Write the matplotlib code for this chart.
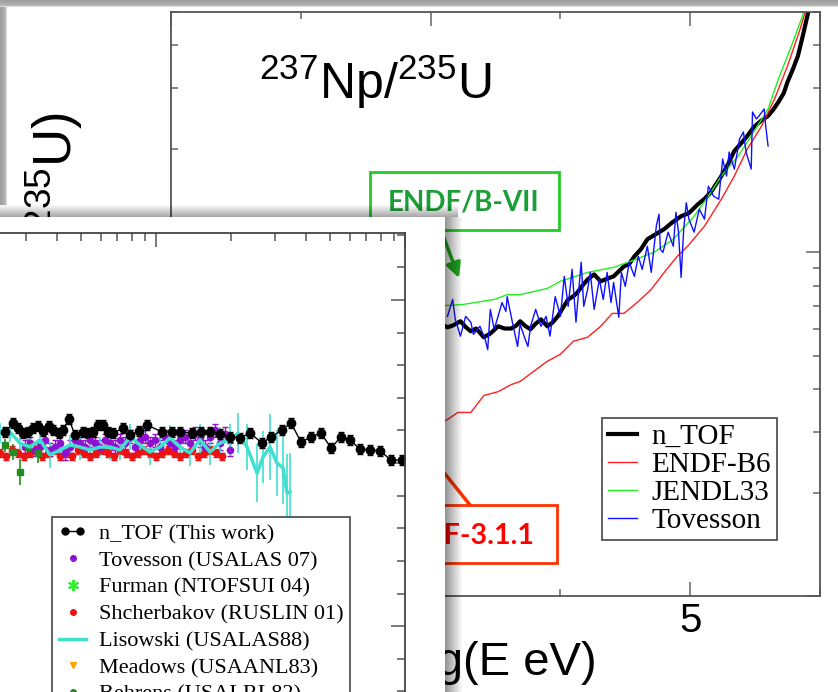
import matplotlib.pyplot as plt
from matplotlib.patches import Rectangle, FancyArrowPatch
from matplotlib.lines import Line2D
from matplotlib.legend_handler import HandlerLine2D
from matplotlib.ticker import NullFormatter, LogLocator, FixedLocator, MultipleLocator

plt.rcParams['font.family'] = ['Liberation Sans', 'DejaVu Sans']
plt.rcParams['mathtext.default'] = 'regular'

W, H = 838, 692

# ---- back slide: 237Np/235U ratio vs log(E eV) ----
ntof_logE = [3.08, 3.13, 3.17, 3.23, 3.27, 3.31, 3.35, 3.41, 3.46, 3.52, 3.57, 3.62, 3.66, 3.69, 3.73,
             3.77, 3.81, 3.85, 3.90, 3.94, 3.98, 4.02, 4.06, 4.10, 4.13, 4.17, 4.21, 4.26, 4.31, 4.36,
             4.41, 4.45, 4.49, 4.53, 4.57, 4.62, 4.67, 4.72, 4.80, 4.86, 4.93, 4.99, 5.06, 5.11, 5.16,
             5.24, 5.29, 5.34, 5.39, 5.44, 5.49, 5.55, 5.60, 5.64, 5.68, 5.72, 5.75, 5.79, 5.83, 5.87,
             5.91, 5.93]
ntof_ratio = [0.618, 0.605, 0.612, 0.630, 0.606, 0.589, 0.600, 0.566, 0.580, 0.609, 0.600, 0.600, 0.612,
              0.630, 0.610, 0.597, 0.620, 0.638, 0.609, 0.625, 0.651, 0.690, 0.729, 0.745, 0.763, 0.800,
              0.834, 0.862, 0.823, 0.838, 0.851, 0.880, 0.910, 0.925, 0.973, 1.02, 1.091, 1.12, 1.168,
              1.22, 1.273, 1.30, 1.380, 1.43, 1.496, 1.666, 1.80, 1.971, 2.07, 2.18, 2.314, 2.42, 2.492,
              2.60, 2.737, 2.90, 3.131, 3.40, 3.727, 4.30, 5.008, 5.6]

endf_logE = [3.08, 3.13, 3.21, 3.31, 3.41, 3.52, 3.62, 3.69, 3.90, 4.00, 4.10, 4.21, 4.31, 4.40, 4.49,
             4.60, 4.70, 4.80, 4.90, 4.98, 5.11, 5.24, 5.34, 5.44, 5.55, 5.65, 5.75, 5.84, 5.89, 5.93]
endf_ratio = [0.319, 0.326, 0.342, 0.342, 0.383, 0.393, 0.412, 0.421, 0.482, 0.505, 0.551, 0.566, 0.609,
              0.664, 0.664, 0.719, 0.780, 0.874, 0.973, 1.041, 1.191, 1.427, 1.666, 1.997, 2.33, 2.793,
              3.486, 4.379, 5.04, 5.8]

jendl_logE = [3.08, 3.13, 3.25, 3.49, 3.59, 3.69, 3.79, 3.90, 4.00, 4.21, 4.41, 4.52, 4.72, 4.87, 5.03,
              5.14, 5.24, 5.37, 5.47, 5.60, 5.68, 5.78, 5.88, 5.91]
jendl_ratio = [0.700, 0.700, 0.705, 0.729, 0.753, 0.753, 0.768, 0.785, 0.823, 0.874, 0.904, 0.935, 0.999,
               1.091, 1.273, 1.456, 1.666, 1.905, 2.18, 2.612, 3.195, 3.986, 5.04, 5.6]

tov_logE = [3.13, 3.17, 3.19, 3.23, 3.27, 3.31, 3.33, 3.38, 3.42, 3.44, 3.46, 3.49, 3.52, 3.55, 3.58,
            3.59, 3.63, 3.67, 3.69, 3.72, 3.75, 3.77, 3.81, 3.85, 3.89, 3.92, 3.96, 4.00, 4.03, 4.06,
            4.09, 4.12, 4.16, 4.18, 4.21, 4.23, 4.26, 4.30, 4.33, 4.36, 4.39, 4.41, 4.45, 4.47, 4.50,
            4.53, 4.57, 4.60, 4.63, 4.67, 4.70, 4.74, 4.76, 4.77, 4.79, 4.83, 4.87, 4.89, 4.91, 4.93,
            4.95, 4.97, 4.99, 5.03, 5.07, 5.11, 5.14, 5.18, 5.22, 5.25, 5.28, 5.30, 5.34, 5.38, 5.41,
            5.43, 5.47, 5.48, 5.51, 5.53, 5.57, 5.58, 5.60]
tov_ratio = [0.651, 0.729, 0.638, 0.570, 0.651, 0.626, 0.577, 0.609, 0.558, 0.521, 0.682, 0.597, 0.651,
             0.714, 0.673, 0.743, 0.626, 0.532, 0.618, 0.570, 0.532, 0.609, 0.682, 0.609, 0.651, 0.570,
             0.743, 0.651, 0.851, 0.696, 0.892, 0.626, 0.935, 0.696, 0.780, 0.874, 0.682, 0.834, 0.729,
             0.874, 0.714, 0.817, 0.647, 0.874, 0.796, 0.935, 0.851, 0.973, 0.892, 1.041, 0.874, 1.20,
             1.290, 1.020, 0.999, 1.144, 1.041, 1.307, 1.144, 0.845, 1.168, 1.393, 1.248, 1.144, 1.335,
             1.248, 1.557, 1.456, 1.427, 1.867, 1.666, 1.957, 1.746, 2.135, 2.238, 1.957, 1.746, 2.559,
             2.442, 2.492, 2.612, 2.36, 2.037]

# ---- front slide: high energy ratio vs E (MeV) ----
hntof_E = [24.8, 26.7, 27.9, 29.2, 30.6, 32.1, 33.6, 35.2, 37.2, 38.6, 40.8, 42.3, 44.7, 47.3, 50.9,
           53.3, 55.8, 58.5, 61.2, 64.1, 67.2, 73.7, 78.7, 85.4, 92.0, 105.7, 115.9, 124.8, 139.5,
           151.6, 164.7, 180.7, 198.2, 217.4, 238.5, 266.6, 289.7, 320.6, 348.6, 382.3, 419.3, 460,
           504.5, 553, 601, 659, 723, 794, 879, 972]
hntof_R = [1.595, 1.623, 1.607, 1.592, 1.595, 1.607, 1.613, 1.598, 1.613, 1.601, 1.592, 1.601, 1.635,
           1.585, 1.595, 1.592, 1.595, 1.617, 1.617, 1.595, 1.592, 1.607, 1.585, 1.598, 1.617, 1.595,
           1.595, 1.595, 1.592, 1.596, 1.595, 1.590, 1.580, 1.577, 1.592, 1.561, 1.580, 1.601, 1.623,
           1.564, 1.580, 1.592, 1.546, 1.580, 1.571, 1.543, 1.540, 1.537, 1.509, 1.509]

htov_E = [29.8, 31.2, 32.6, 34.2, 35.9, 37.5, 39.3, 41.2, 43.1, 45.2, 47.3, 49.5, 51.9, 54.3, 56.9,
          59.6, 62.4, 65.4, 68.5, 71.7, 75.1, 78.7, 82.4, 86.3, 90.3, 94.6, 99.1, 103.8, 108.7, 113.8,
          119.2, 124.8, 130.7, 136.9, 143.4, 150.2, 157.3, 164.7, 172.5, 180.7, 189.2, 198.2]
htov_R = [1.55, 1.56, 1.54, 1.55, 1.57, 1.54, 1.55, 1.56, 1.53, 1.55, 1.57, 1.56, 1.55, 1.57, 1.56,
          1.55, 1.57, 1.56, 1.55, 1.57, 1.56, 1.58, 1.55, 1.57, 1.58, 1.56, 1.57, 1.55, 1.58, 1.56,
          1.55, 1.57, 1.58, 1.56, 1.59, 1.57, 1.55, 1.58, 1.60, 1.56, 1.59, 1.54]

shch_E = [23.6, 25.0, 26.4, 27.9, 29.5, 31.2, 33.0, 34.9, 36.9, 38.9, 41.2, 43.5, 46.0, 48.6, 51.4,
          54.3, 57.4, 60.7, 64.1, 67.8, 71.7, 75.8, 80.1, 84.7, 89.5, 94.6, 100.0, 105.7, 111.7, 118.1,
          124.8, 131.9, 139.5, 147.4, 155.8, 164.7, 174.1, 184.0]
shch_R = [1.53, 1.52, 1.54, 1.53, 1.52, 1.53, 1.54, 1.52, 1.53, 1.54, 1.52, 1.53, 1.52, 1.54, 1.53,
          1.52, 1.53, 1.54, 1.53, 1.52, 1.54, 1.53, 1.52, 1.53, 1.54, 1.53, 1.52, 1.53, 1.54, 1.53,
          1.52, 1.53, 1.54, 1.52, 1.53, 1.54, 1.53, 1.52]

lis_E = [23.6, 25.9, 28.4, 31.2, 34.2, 37.5, 41.2, 45.2, 49.5, 54.3, 59.6, 65.4, 71.7, 78.7, 86.3,
         94.6, 103.8, 113.8, 124.8, 136.9, 150.2, 164.7, 180.7, 198.2, 213.4, 232.0, 254.5, 269.0,
         287.0, 306.0, 323.6, 335.8, 345.3]
lis_R = [1.592, 1.595, 1.561, 1.549, 1.571, 1.525, 1.540, 1.555, 1.549, 1.540, 1.549, 1.549, 1.540,
         1.580, 1.555, 1.534, 1.549, 1.577, 1.549, 1.531, 1.571, 1.534, 1.561, 1.571, 1.592, 1.549,
         1.469, 1.518, 1.549, 1.500, 1.485, 1.408, 1.411]
lis_err = [0.03, 0.03, 0.04, 0.03, 0.03, 0.04, 0.03, 0.03, 0.04, 0.03, 0.03, 0.04, 0.03, 0.04, 0.03,
           0.04, 0.03, 0.04, 0.04, 0.04, 0.05, 0.04, 0.05, 0.05, 0.06, 0.07, 0.09, 0.08, 0.1, 0.1,
           0.11, 0.12, 0.12]

beh_E = [24.8, 26.7, 28.4, 30.6, 33.6]
beh_R = [1.555, 1.534, 1.472, 1.549, 1.531]
beh_err = [0.02, 0.025, 0.04, 0.025, 0.03]


def fx(px):
    return px / W


def fy(py):
    return 1 - py / H


def strip(x0, y0, x1, y1, color, alpha, z):
    fig.add_artist(Rectangle((fx(x0), fy(y1)), (x1 - x0) / W, (y1 - y0) / H,
                             transform=fig.transFigure, facecolor=color,
                             edgecolor='none', alpha=alpha, zorder=z))


fig = plt.figure(figsize=(8.38, 6.92), dpi=100)

# back axes
axb = fig.add_axes([fx(171), fy(596), (820 - 171) / W, (596 - 12) / H])
axb.set_zorder(1)
l_ntof, = axb.plot(ntof_logE, ntof_ratio, color='black', lw=3)
l_endf, = axb.plot(endf_logE, endf_ratio, color='#ff2020', lw=1)
l_jendl, = axb.plot(jendl_logE, jendl_ratio, color='#22ee22', lw=1)
l_tov, = axb.plot(tov_logE, tov_ratio, color='#1010ff', lw=1)
axb.set_xlim(1, 6)
axb.set_yscale('log')
axb.set_ylim(0.1, 5)
axb.set_xticks([1, 3, 5])
axb.set_xticklabels(['', '', '5'])
axb.xaxis.set_minor_locator(FixedLocator([2, 4, 6]))
axb.yaxis.set_major_locator(LogLocator(base=10))
axb.yaxis.set_minor_locator(LogLocator(base=10, subs=range(2, 10)))
axb.yaxis.set_major_formatter(NullFormatter())
axb.yaxis.set_minor_formatter(NullFormatter())
axb.tick_params(which='both', direction='in', top=True, right=True, color='#666666', width=1.1)
axb.tick_params(which='major', length=10, labelsize=29, pad=4)
axb.tick_params(which='minor', length=5)
for s in axb.spines.values():
    s.set_color('#555555')
    s.set_linewidth(1.3)

legb = axb.legend([l_ntof, l_endf, l_jendl, l_tov], ['n_TOF', 'ENDF-B6', 'JENDL33', 'Tovesson'],
                  loc='upper left', bbox_to_anchor=(fx(602), fy(418)), bbox_transform=fig.transFigure,
                  borderaxespad=0, prop={'family': 'Liberation Serif', 'size': 21},
                  handlelength=1.0, handletextpad=0.5, labelspacing=0.05, borderpad=0.2,
                  fancybox=False, edgecolor='#444444', framealpha=1)
legb.get_frame().set_linewidth(1.2)

fig.text(fx(259), fy(99), '$^{237}$Np/$^{235}$U', fontsize=36, ha='left', va='baseline', zorder=1.5)
fig.text(fx(72), fy(112), 'σ($^{237}$Np)/σ($^{235}$U)', fontsize=38, rotation=90,
         rotation_mode='anchor', ha='right', va='baseline', zorder=1.5)
fig.text(fx(597), fy(675), 'log(E eV)', fontsize=34, ha='right', va='baseline', zorder=1.5)

# callout boxes
fig.add_artist(Rectangle((fx(370), fy(230)), (559 - 370) / W, (230 - 172) / H, transform=fig.transFigure,
                         fill=False, edgecolor='#22cc22', lw=2, zorder=1.5))
fig.text(fx(464), fy(202), 'ENDF/B-VII', color='#1a9e35', fontweight='bold', family='Lato',
         fontsize=20, ha='center', va='center', zorder=1.5)
fig.add_artist(FancyArrowPatch((fx(441), fy(230)), (fx(459), fy(278)), transform=fig.transFigure,
                               arrowstyle='-|>', mutation_scale=22, color='#1fa81f', lw=2.5,
                               shrinkA=0, shrinkB=0, zorder=1.5))
fig.add_artist(Rectangle((fx(370), fy(563)), (557 - 370) / W, (563 - 505) / H, transform=fig.transFigure,
                         fill=False, edgecolor='#ff3300', lw=2, zorder=1.5))
fig.text(fx(467), fy(536), 'JEFF-3.1.1', color='#ff0000', fontweight='bold', family='Lato',
         fontsize=20.5, ha='center', va='center', zorder=1.5)
fig.add_artist(FancyArrowPatch((fx(470), fy(505)), (fx(425), fy(449)), transform=fig.transFigure,
                               arrowstyle='-|>', mutation_scale=22, color='#ff3300', lw=2.5,
                               shrinkA=0, shrinkB=0, zorder=1.5))

# slide frame shading
greys = ['#9e9e9e', '#a2a2a2', '#a6a6a6', '#aaaaaa', '#b0b0b0', '#bcbcbc', '#d8d8d8']
for i, c in enumerate(greys):
    strip(0, i, W, i + 1, c, 1, 1.6)
    strip(i, i, i + 1, 205, c, 1, 1.6)

# front slide shadow + panel
for i in range(12):
    strip(0, 205 + i, 458, 206 + i, 'black', 0.03 + 0.028 * i, 2)
for i in range(17):
    strip(445 + i, 217, 446 + i, H, 'black', 0.42 * (1 - i / 17.0), 2)
fig.add_artist(Rectangle((0, 0), fx(445), fy(217), transform=fig.transFigure,
                         facecolor='white', edgecolor='none', zorder=2.1))

# front axes
axf = fig.add_axes([fx(-93), fy(724), (405 + 93) / W, (724 - 233) / H])
axf.set_zorder(3)
axf.errorbar(shch_E, shch_R, yerr=0.012, fmt='o', ms=4.5, color='#ee1111', elinewidth=1, capsize=2)
axf.errorbar(htov_E, htov_R, yerr=0.02, fmt='o', ms=4.5, color='#9010d0', elinewidth=1, capsize=2)
axf.errorbar(beh_E, beh_R, yerr=beh_err, fmt='s', ms=4, color='#228b22', elinewidth=1.2, capsize=0)
axf.errorbar(lis_E, lis_R, yerr=lis_err, fmt='-', lw=2.5, color='#40e0d0', elinewidth=1.2)
axf.errorbar(hntof_E, hntof_R, yerr=0.015, fmt='-o', ms=6, lw=1, color='black', elinewidth=1, capsize=2.5)
axf.set_xscale('log')
axf.set_xlim(10, 1000)
axf.set_ylim(0.7, 2.205)
axf.yaxis.set_major_locator(MultipleLocator(0.5))
axf.yaxis.set_minor_locator(MultipleLocator(0.1))
axf.xaxis.set_minor_locator(LogLocator(base=10, subs=range(2, 10)))
axf.tick_params(which='both', direction='in', top=True, right=True, color='#555555', width=1.1)
axf.tick_params(which='major', length=10)
axf.tick_params(which='minor', length=5.5)
for s in axf.spines.values():
    s.set_color('#444444')
    s.set_linewidth(1.3)

h_ntof = Line2D([], [], color='black', marker='o', ms=5, lw=1)
h_tov = Line2D([], [], color='#9010d0', marker='o', ms=4, ls='none')
h_fur = Line2D([], [], color='#33ee33', marker=(6, 2, 0), ms=8, mew=1.5, ls='none')
h_shch = Line2D([], [], color='#ee1111', marker='o', ms=4, ls='none')
h_lis = Line2D([], [], color='#40e0d0', lw=2.5)
h_mead = Line2D([], [], color='#ffa500', marker='v', ms=5, ls='none')
h_beh = Line2D([], [], color='#228b22', marker='o', ms=4, ls='none')
legf = axf.legend([h_ntof, h_tov, h_fur, h_shch, h_lis, h_mead, h_beh],
                  ['n_TOF (This work)', 'Tovesson (USALAS 07)', 'Furman (NTOFSUI 04)',
                   'Shcherbakov (RUSLIN 01)', 'Lisowski (USALAS88)', 'Meadows (USAANL83)',
                   'Behrens (USALRL82)'],
                  handler_map={h_ntof: HandlerLine2D(numpoints=2)}, numpoints=1,
                  loc='upper left', bbox_to_anchor=(fx(52), fy(517)), bbox_transform=fig.transFigure,
                  borderaxespad=0, prop={'family': 'Liberation Serif', 'size': 16},
                  handlelength=1.25, handletextpad=0.55, labelspacing=0.28, borderpad=0.3,
                  fancybox=False, edgecolor='#444444', framealpha=1)
legf.get_frame().set_linewidth(1.2)

fig.savefig('out.png', dpi=100)
